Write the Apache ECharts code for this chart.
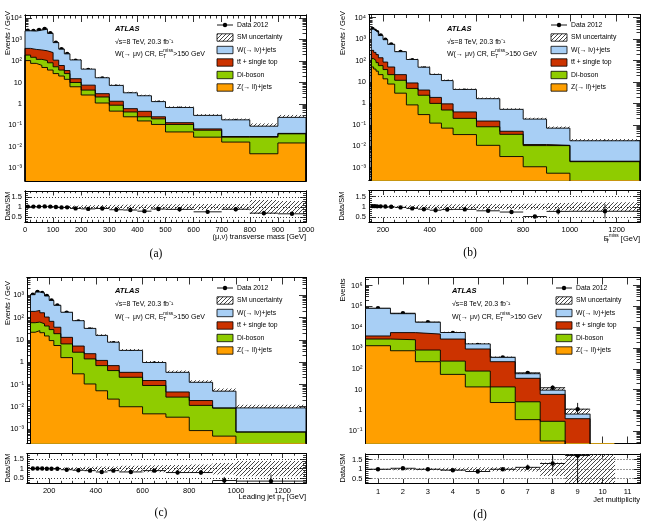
<!DOCTYPE html>
<html>
<head>
<meta charset="utf-8">
<script src="https://cdn.jsdelivr.net/npm/echarts@6/dist/echarts.min.js"></script>
<style>
  html, body { margin: 0; padding: 0; background: #fff; }
  #chart { width: 646px; height: 530px; }
</style>
</head>
<body>
<div id="chart"></div>
<script>
// ---------- data: (a) (mu,nu) transverse mass, Events / GeV ----------
const edgesA = [0, 20, 40, 60, 80, 100, 120, 140, 160, 200, 250, 300, 350, 400, 450, 500, 600, 700, 800, 900, 1000];
const zjetsA = [105, 78, 63, 50, 38, 26, 20, 14, 6.3, 2.6, 1.1, 0.46, 0.25, 0.16, 0.11, 0.049, 0.028, 0.0165, 0.0047, 0.015];
const dibosonA = [85, 72, 57, 55, 45, 28, 18, 12, 3.7, 1.8, 1.0, 0.41, 0.17, 0.09, 0.09, 0.061, 0.031, 0.0115, 0.0233, 0.025];
const topA = [200, 200, 210, 195, 167, 56, 24, 10, 5, 3.1, 0.9, 0.46, 0.18, 0.2, 0.05, 0.023, 0.009, 0.002, 0.002, 0.002];
const wjetsA = [2190, 2160, 2445, 2770, 1700, 615, 298, 181, 98, 34.5, 13.6, 5.97, 2.7, 1.95, 1.03, 0.547, 0.222, 0.15, 0.061, 0.193];
const dataA = [2630, 2560, 2830, 3160, 1990, 725, 353, 213, 105, 38, 15.4, 6.3, 2.8, 1.9, 1.15, 0.6, 0.22, 0.16, 0.063, 0.155];
const uncA = [0.03, 0.03, 0.03, 0.03, 0.03, 0.04, 0.05, 0.06, 0.07, 0.09, 0.1, 0.11, 0.12, 0.12, 0.13, 0.14, 0.15, 0.15, 0.35, 0.3];
const errA = [0.005, 0.005, 0.005, 0.005, 0.005, 0.01, 0.01, 0.015, 0.015, 0.02, 0.03, 0.04, 0.06, 0.07, 0.09, 0.13, 0.11, 0.12, 0.17, 0.11];

// ---------- data: (b) missing ET ----------
const edgesB = [150, 160, 170, 180, 200, 220, 250, 300, 350, 400, 450, 500, 600, 700, 800, 900, 1000, 1300];
const zjetsB = [50, 40, 32, 22, 14, 8, 3.0, 0.85, 0.3, 0.12, 0.07, 0.035, 0.011, 0.0033, 0.0011, 0.00055, 0.00005];
const dibosonB = [73, 60, 48, 36, 24, 14, 9, 4.15, 2.1, 0.88, 0.42, 0.165, 0.07, 0.0327, 0.0096, 0.01015, 0.00185];
const topB = [177, 140, 110, 77, 47, 28, 10, 4, 1.8, 0.9, 0.46, 0.2, 0.069, 0.014, 0.0013, 0.0003, 0.0001];
const wjetsB = [2613, 2187, 1869, 1336, 856, 520, 237, 103, 44.7, 20.6, 10.65, 4.08, 1.51, 0.477, 0.173, 0.059, 0.016];
const dataB = [3000, 2500, 2100, 1500, 950, 570, 251, 103, 43, 18.7, 10, 3.9, 1.33, 0.39, 0.096, 0.054, 0.014];
const uncB = [0.03, 0.03, 0.03, 0.03, 0.03, 0.04, 0.05, 0.08, 0.1, 0.1, 0.12, 0.12, 0.13, 0.14, 0.15, 0.18, 0.22];
const errB = [0.005, 0.005, 0.005, 0.005, 0.007, 0.008, 0.01, 0.015, 0.02, 0.03, 0.04, 0.05, 0.07, 0.11, 0.15, 0.2, 0.45];

// ---------- data: (c) leading jet pT ----------
const edgesC = [120, 140, 160, 180, 200, 220, 250, 300, 350, 400, 450, 500, 600, 700, 800, 900, 1000, 1300];
const zjetsC = [22, 26, 21, 15, 9.3, 5.6, 1.6, 0.3, 0.105, 0.052, 0.022, 0.01, 0.0048, 0.0034, 0.00085, 0.00048, 0.00005];
const dibosonC = [37, 37, 32, 27, 19.7, 13.4, 5.0, 2.5, 1.295, 0.648, 0.398, 0.2, 0.0852, 0.0236, 0.01065, 0.00822, 0.00068];
const topC = [131, 147, 112, 64, 39, 18, 6.4, 2.5, 1.0, 0.5, 0.28, 0.14, 0.06, 0.019, 0.0075, 0.0001, 0.00001];
const wjetsC = [879, 1186, 1092, 824, 522, 318, 161, 67.5, 30.4, 14.7, 7.19, 3.02, 0.817, 0.304, 0.106, 0.0412, 0.00812];
const dataC = [1080, 1410, 1270, 930, 590, 355, 165, 67, 29.5, 13.2, 7.1, 2.8, 0.87, 0.28, 0.1, 0.019, 0.0031];
const uncC = [0.03, 0.03, 0.03, 0.03, 0.03, 0.04, 0.06, 0.08, 0.1, 0.12, 0.12, 0.15, 0.18, 0.2, 0.22, 0.3, 0.4];
const errC = [0.007, 0.007, 0.007, 0.008, 0.009, 0.01, 0.015, 0.02, 0.03, 0.04, 0.06, 0.06, 0.08, 0.12, 0.15, 0.5, 1.0];

// ---------- data: (d) jet multiplicity, Events ----------
const edgesD = [0.5, 1.5, 2.5, 3.5, 4.5, 5.5, 6.5, 7.5, 8.5, 9.5, 10.5];
const zjetsD = [1290, 740, 220, 54, 13.5, 2.4, 0.36, 0.034, 0.0001, 0.00001];
const dibosonD = [1410, 1760, 580, 181, 64.5, 11.1, 2.24, 0.266, 0.0001, 0.00001];
const topD = [1100, 3000, 3900, 2465, 822, 206.5, 32.4, 5.6, 0.3998, 0.00348];
const wjetsD = [77200, 39260, 12700, 2879, 680, 135, 23.2, 3.56, 0.269, 0.0005];
const dataD = [81000, 47000, 17400, 5300, 1390, 355, 64, 12.3, 1.15, null];
const uncD = [0.03, 0.05, 0.05, 0.08, 0.1, 0.1, 0.12, 0.35, 0.8, 1.0];
const errD = [0.004, 0.005, 0.008, 0.014, 0.027, 0.05, 0.13, 0.29, 1.0, 0];

// ---------- tick labels ----------
const xTicksA = [0, 100, 200, 300, 400, 500, 600, 700, 800, 900, 1000];
const xTicksBC = [200, 400, 600, 800, 1000, 1200];
const xTicksD = [1, 2, 3, 4, 5, 6, 7, 8, 9, 10, 11];
const logTicks = [1e-3, 1e-2, 1e-1, 1, 10, 100, 1e3, 1e4, 1e5, 1e6];
const ratioTicks = [0.5, 1, 1.5];

const SANS = '"Liberation Sans", Arial, Helvetica, sans-serif';
const SERIF = '"Liberation Serif", "DejaVu Serif", serif';
const COL = { w: '#a8cff5', tt: '#cc3300', di: '#8fcc00', z: '#ff9f00' };

// hatch pattern for the SM uncertainty
function makeHatch() {
  const s = 4;
  const c = document.createElement('canvas');
  c.width = s; c.height = s;
  const g = c.getContext('2d');
  g.strokeStyle = '#333'; g.lineWidth = 0.9;
  g.beginPath();
  g.moveTo(0, s); g.lineTo(s, 0);
  g.moveTo(-1, 1); g.lineTo(1, -1);
  g.moveTo(s - 1, s + 1); g.lineTo(s + 1, s - 1);
  g.stroke();
  return c;
}
const HATCH = { image: makeHatch(), repeat: 'repeat' };

const SUP = { '-': '\u207B', '0': '\u2070', '1': '\u00B9', '2': '\u00B2', '3': '\u00B3', '4': '\u2074', '5': '\u2075', '6': '\u2076', '7': '\u2077', '8': '\u2078', '9': '\u2079' };
function logLabel(v) {
  const e = Math.round(Math.log10(v));
  if (e === 0) return '1';
  if (e === 1) return '10';
  return '10' + String(e).split('').map(c => SUP[c]).join('');
}

const panels = [
  { edges: edgesA, z: zjetsA, di: dibosonA, tt: topA, w: wjetsA, data: dataA, unc: uncA, err: errA,
    xMin: 0, xMax: 1000, xMajor: xTicksA, xMinorStep: 20, yMin: Math.pow(10, -3.6), yMax: Math.pow(10, 4.15),
    main: { left: 25, top: 15, width: 281, height: 166 }, ratio: { left: 25, top: 191, width: 281, height: 31 } },
  { edges: edgesB, z: zjetsB, di: dibosonB, tt: topB, w: wjetsB, data: dataB, unc: uncB, err: errB,
    xMin: 140, xMax: 1300, xMajor: xTicksBC, xMinorStep: 50, yMin: Math.pow(10, -3.6), yMax: Math.pow(10, 4.15),
    main: { left: 369, top: 14.5, width: 271, height: 166 }, ratio: { left: 369, top: 190.5, width: 271, height: 31.5 } },
  { edges: edgesC, z: zjetsC, di: dibosonC, tt: topC, w: wjetsC, data: dataC, unc: uncC, err: errC,
    xMin: 105, xMax: 1300, xMajor: xTicksBC, xMinorStep: 50, yMin: Math.pow(10, -3.65), yMax: Math.pow(10, 3.8),
    main: { left: 27, top: 277.5, width: 279, height: 166 }, ratio: { left: 27, top: 453.5, width: 279, height: 29.5 } },
  { edges: edgesD, z: zjetsD, di: dibosonD, tt: topD, w: wjetsD, data: dataD, unc: uncD, err: errD,
    xMin: 0.5, xMax: 11.5, xMajor: xTicksD, xMinorStep: 0, yMin: Math.pow(10, -1.59), yMax: Math.pow(10, 6.39),
    main: { left: 365.5, top: 277.5, width: 274.5, height: 166 }, ratio: { left: 365.5, top: 454, width: 274.5, height: 29.5 } }
];
const RMIN = 0.25, RMAX = 1.8;

const grids = [], xAxes = [], yAxes = [], series = [];

function axisCfg(gi, type, min, max, position, ticks, len, label) {
  const cfg = {
    gridIndex: gi, type: type, min: min, max: max, position: position,
    axisLine: { show: true, onZero: false, lineStyle: { color: '#000', width: 1 } },
    axisTick: { show: ticks.length > 0, inside: true, length: len, customValues: ticks, lineStyle: { color: '#000', width: 0.8 } },
    axisLabel: { show: false },
    splitLine: { show: false },
    minorTick: { show: false }
  };
  if (type === 'log') cfg.logBase = 10;
  if (label) {
    cfg.axisLabel = Object.assign({ show: true, customValues: ticks, color: '#000', fontFamily: SANS, fontSize: 7.5, margin: 3, formatter: v => String(v) }, label);
  }
  return cfg;
}
function add(list, cfg) { list.push(cfg); return list.length - 1; }

function minorLinear(min, max, step, major) {
  const out = [];
  if (!step) return out;
  for (let v = Math.ceil(min / step) * step; v <= max + 1e-9; v += step) {
    const r = Math.round(v * 1000) / 1000;
    if (major.indexOf(r) < 0) out.push(r);
  }
  return out;
}
function minorLog(min, max) {
  const out = [];
  for (let e = Math.floor(Math.log10(min)); e <= Math.ceil(Math.log10(max)); e++) {
    for (let m = 2; m <= 9; m++) {
      const v = m * Math.pow(10, e);
      if (v >= min && v <= max) out.push(v);
    }
  }
  return out;
}
function stepPts(edges, vals, floor) {
  const pts = [[edges[0], floor]];
  vals.forEach((v, i) => pts.push([edges[i], v]));
  pts.push([edges[edges.length - 1], vals[vals.length - 1]]);
  pts.push([edges[edges.length - 1], floor]);
  return pts;
}

function bandItem(params, api) {
  const a = api.coord([api.value(0), api.value(3)]);
  const b = api.coord([api.value(1), api.value(2)]);
  return { type: 'rect', shape: { x: a[0], y: a[1], width: b[0] - a[0], height: b[1] - a[1] }, style: { fill: HATCH } };
}
function dataItem(params, api) {
  const x0 = api.value(0), x1 = api.value(1), y = api.value(2);
  const xm = (x0 + x1) / 2;
  const c = api.coord([xm, y]), l = api.coord([x0, y]), r = api.coord([x1, y]);
  const lo = api.coord([xm, api.value(3)]), hi = api.coord([xm, api.value(4)]);
  const st = { stroke: '#000', lineWidth: 0.9 };
  return { type: 'group', children: [
    { type: 'line', shape: { x1: l[0], y1: c[1], x2: r[0], y2: c[1] }, style: st },
    { type: 'line', shape: { x1: c[0], y1: lo[1], x2: c[0], y2: hi[1] }, style: st },
    { type: 'circle', shape: { cx: c[0], cy: c[1], r: 2.2 }, style: { fill: '#000' } }
  ] };
}

panels.forEach(p => {
  const gM = add(grids, Object.assign({ containLabel: false, outerBoundsMode: 'none' }, p.main));
  const gR = add(grids, Object.assign({ containLabel: false, outerBoundsMode: 'none' }, p.ratio));
  const xMinor = minorLinear(p.xMin, p.xMax, p.xMinorStep, p.xMajor);
  const yMajor = logTicks.filter(v => v >= p.yMin && v <= p.yMax);
  const yMinor = minorLog(p.yMin, p.yMax);
  const rMinor = minorLinear(RMIN, RMAX, 0.1, ratioTicks);

  // main pad axes
  const xm = add(xAxes, axisCfg(gM, 'value', p.xMin, p.xMax, 'bottom', p.xMajor, 7));
  add(xAxes, axisCfg(gM, 'value', p.xMin, p.xMax, 'bottom', xMinor, 3.5));
  add(xAxes, axisCfg(gM, 'value', p.xMin, p.xMax, 'top', p.xMajor, 7));
  add(xAxes, axisCfg(gM, 'value', p.xMin, p.xMax, 'top', xMinor, 3.5));
  const ym = add(yAxes, axisCfg(gM, 'log', p.yMin, p.yMax, 'left', yMajor, 7, { formatter: logLabel }));
  add(yAxes, axisCfg(gM, 'log', p.yMin, p.yMax, 'left', yMinor, 3.5));
  add(yAxes, axisCfg(gM, 'log', p.yMin, p.yMax, 'right', yMajor, 7));
  add(yAxes, axisCfg(gM, 'log', p.yMin, p.yMax, 'right', yMinor, 3.5));

  // ratio pad axes
  const xr = add(xAxes, axisCfg(gR, 'value', p.xMin, p.xMax, 'bottom', p.xMajor, 4.5, { margin: 4 }));
  add(xAxes, axisCfg(gR, 'value', p.xMin, p.xMax, 'bottom', xMinor, 2.2));
  add(xAxes, axisCfg(gR, 'value', p.xMin, p.xMax, 'top', p.xMajor, 4.5));
  add(xAxes, axisCfg(gR, 'value', p.xMin, p.xMax, 'top', xMinor, 2.2));
  const yrCfg = axisCfg(gR, 'value', RMIN, RMAX, 'left', ratioTicks, 6, {});
  yrCfg.splitLine = { show: true, lineStyle: { color: '#000', width: 0.8, type: [1, 2] } };
  const yr = add(yAxes, yrCfg);
  add(yAxes, axisCfg(gR, 'value', RMIN, RMAX, 'left', rMinor, 3));
  add(yAxes, axisCfg(gR, 'value', RMIN, RMAX, 'right', ratioTicks, 6));
  add(yAxes, axisCfg(gR, 'value', RMIN, RMAX, 'right', rMinor, 3));

  // stacked histogram, drawn as cumulative layers
  const c1 = p.z.slice();
  const c2 = c1.map((v, i) => v + p.di[i]);
  const c3 = c2.map((v, i) => v + p.tt[i]);
  const c4 = c3.map((v, i) => v + p.w[i]);
  [[c4, COL.w], [c3, COL.tt], [c2, COL.di], [c1, COL.z]].forEach(([vals, col]) => {
    series.push({
      type: 'line', xAxisIndex: xm, yAxisIndex: ym, step: 'end', symbol: 'none', silent: true,
      data: stepPts(p.edges, vals, p.yMin),
      lineStyle: { color: '#000', width: 0.9 },
      areaStyle: { color: col, opacity: 1, origin: 'start' }
    });
  });

  const bins = p.edges.slice(0, -1).map((e, i) => i);
  const floor = p.yMin * 0.1;
  series.push({
    type: 'custom', xAxisIndex: xm, yAxisIndex: ym, clip: true, silent: true,
    encode: { x: [0, 1], y: [2, 3] },
    renderItem: bandItem,
    data: bins.map(i => [p.edges[i], p.edges[i + 1], Math.max(c4[i] * (1 - p.unc[i]), floor), c4[i] * (1 + p.unc[i])])
  });
  const withData = bins.filter(i => p.data[i] != null && p.data[i] > 0);
  series.push({
    type: 'custom', xAxisIndex: xm, yAxisIndex: ym, clip: true, silent: true,
    encode: { x: [0, 1], y: [2, 3, 4] },
    renderItem: dataItem,
    data: withData.map(i => [p.edges[i], p.edges[i + 1], p.data[i], Math.max(p.data[i] * (1 - p.err[i]), floor), p.data[i] * (1 + p.err[i])])
  });

  // ratio pad
  series.push({
    type: 'custom', xAxisIndex: xr, yAxisIndex: yr, clip: true, silent: true,
    encode: { x: [0, 1], y: [2, 3] },
    renderItem: bandItem,
    data: bins.map(i => [p.edges[i], p.edges[i + 1], 1 - p.unc[i], 1 + p.unc[i]])
  });
  series.push({
    type: 'custom', xAxisIndex: xr, yAxisIndex: yr, clip: true, silent: true,
    encode: { x: [0, 1], y: [2, 3, 4] },
    renderItem: dataItem,
    data: withData.map(i => {
      const r = p.data[i] / c4[i];
      return [p.edges[i], p.edges[i + 1], r, r * (1 - p.err[i]), r * (1 + p.err[i])];
    })
  });
});

// ---------- texts and legends ----------
const RICH = {
  t: { fontFamily: SANS, fontSize: 4.8, verticalAlign: 'bottom', lineHeight: 11, width: 0.01 },
  m: { fontFamily: SANS, fontSize: 4.8, verticalAlign: 'top', lineHeight: 11 },
  s: { fontFamily: SANS, fontSize: 5.5, verticalAlign: 'bottom', lineHeight: 12 }
};
function txt(x, y, text, st, extra) {
  return Object.assign({
    type: 'text', x: x, y: y, silent: true,
    style: Object.assign({ text: text, fill: '#000', fontFamily: SANS, fontSize: 7, align: 'left', verticalAlign: 'middle', rich: RICH, lineHeight: 11 }, st || {})
  }, extra || {});
}
const graphics = [];
function annot(x, ys) {
  graphics.push(txt(x, ys[0], 'ATLAS', { fontWeight: 'bold', fontStyle: 'italic', fontSize: 7.5 }));
  graphics.push(txt(x, ys[1], '\u221As=8 TeV, 20.3 fb\u207B\u00B9'));
  graphics.push(txt(x, ys[2], 'W(\u2192 \u03BC\u03BD) CR, E{t|T}{m|miss}>150 GeV'));
}
function legend(ix, tx, ys) {
  const names = ['Data 2012', 'SM uncertainty', 'W(\u2192 l\u03BD)+jets', 'tt\u0304 + single top', 'Di-boson', 'Z(\u2192 ll)+jets'];
  const fills = [null, HATCH, COL.w, COL.tt, COL.di, COL.z];
  names.forEach((n, i) => {
    const y = ys[i];
    if (i === 0) {
      graphics.push({ type: 'line', silent: true, shape: { x1: ix, y1: y, x2: ix + 16, y2: y }, style: { stroke: '#000', lineWidth: 0.9 } });
      graphics.push({ type: 'circle', silent: true, shape: { cx: ix + 8, cy: y, r: 2.2 }, style: { fill: '#000' } });
    } else {
      graphics.push({ type: 'rect', silent: true, shape: { x: ix, y: y - 3.7, width: 16, height: 7.4 }, style: { fill: fills[i], stroke: '#000', lineWidth: 0.8 } });
    }
    graphics.push(txt(tx, y, n, { fontSize: 6.8 }));
  });
}
annot(115, [29, 41.7, 54]);
annot(447, [29, 41.7, 54]);
annot(115, [291, 303.7, 316.7]);
annot(452, [291, 303.7, 316.7]);
legend(217, 237, [25, 37.5, 50, 62.5, 75, 87.5]);
legend(551, 571, [25, 37.5, 50, 62.5, 75, 87.5]);
legend(217, 237, [288, 300.5, 313, 325.5, 338, 350.5]);
legend(556, 576, [288, 300.5, 313, 325.5, 338, 350.5]);

const ROT = Math.PI / 2;
const ytitle = { fontSize: 7.5, align: 'center' };
graphics.push(txt(8, 33, 'Events / GeV', ytitle, { rotation: ROT }));
graphics.push(txt(343, 33, 'Events / GeV', ytitle, { rotation: ROT }));
graphics.push(txt(8, 303, 'Events / GeV', ytitle, { rotation: ROT }));
graphics.push(txt(343, 290, 'Events', ytitle, { rotation: ROT }));
graphics.push(txt(8, 206, 'Data/SM', ytitle, { rotation: ROT }));
graphics.push(txt(342, 206, 'Data/SM', ytitle, { rotation: ROT }));
graphics.push(txt(8, 468, 'Data/SM', ytitle, { rotation: ROT }));
graphics.push(txt(343, 468, 'Data/SM', ytitle, { rotation: ROT }));

const xtitle = { fontSize: 7.5, align: 'right' };
graphics.push(txt(306, 237, '(\u03BC,\u03BD) transverse mass [GeV]', xtitle));
graphics.push(txt(640, 239, 'E{t|T}{m|miss} [GeV]', xtitle));
graphics.push(txt(306, 497, 'Leading jet p{s|T} [GeV]', xtitle));
graphics.push(txt(640, 500, 'Jet multiplicity', xtitle));

const cap = { fontFamily: SERIF, fontSize: 11.5, align: 'center' };
graphics.push(txt(156, 254, '(a)', cap));
graphics.push(txt(470, 253, '(b)', cap));
graphics.push(txt(161, 513, '(c)', cap));
graphics.push(txt(480, 515, '(d)', cap));

const chart = echarts.init(document.getElementById('chart'), null, { renderer: 'canvas', width: 646, height: 530 });
chart.setOption({
  backgroundColor: '#fff',
  animation: false,
  grid: grids,
  xAxis: xAxes,
  yAxis: yAxes,
  series: series,
  graphic: { elements: graphics }
});
</script>
</body>
</html>
